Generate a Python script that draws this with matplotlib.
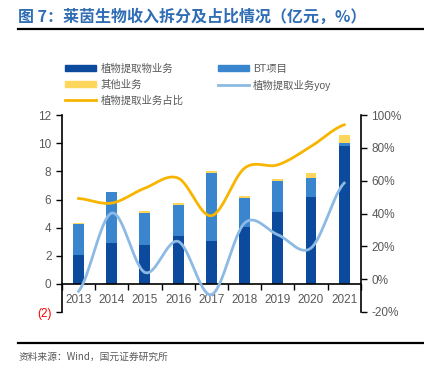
import matplotlib.pyplot as plt
import numpy as np
from matplotlib.patches import Patch
from matplotlib.lines import Line2D

plt.rcParams['font.family'] = ['Liberation Sans', 'Noto Sans CJK SC', 'DejaVu Sans']

# Datos
years = ['2013', '2014', '2015', '2016', '2017', '2018', '2019', '2020', '2021']
plant = [2.05, 2.89, 2.77, 3.43, 3.05, 4.07, 5.14, 6.18, 9.82]       # 植物提取物业务
bt = [2.19, 3.62, 2.27, 2.18, 4.83, 2.01, 2.15, 1.32, 0.21]          # BT项目
other = [0.07, -0.11, 0.13, 0.14, 0.14, 0.15, 0.16, 0.38, 0.55]      # 其他业务
yoy = [-7.4, 40.3, 4.1, 23.0, -9.4, 34.2, 27.1, 19.0, 58.6]          # 植物提取业务yoy (%)
share = [49.2, 46.4, 55.5, 61.6, 38.7, 67.7, 69.7, 80.9, 94.1]       # 植物提取业务占比 (%)

C_PLANT = '#0B4A9C'
C_BT = '#3A86CE'
C_OTHER = '#FFD65C'
C_YOY = '#8CBAE4'
C_SHARE = '#F7B500'
GRAY = '#595959'


def smooth(y, n=30):
    """Curva suavizada tipo Catmull-Rom (como las líneas suavizadas de Excel)."""
    pts = np.array(y, dtype=float)
    xs, ys = [], []
    for i in range(len(pts) - 1):
        p0 = pts[i - 1] if i > 0 else pts[i]
        p1, p2 = pts[i], pts[i + 1]
        p3 = pts[i + 2] if i + 2 < len(pts) else pts[i + 1]
        t = np.linspace(0, 1, n, endpoint=False)
        yy = 0.5 * ((2 * p1) + (-p0 + p2) * t + (2 * p0 - 5 * p1 + 4 * p2 - p3) * t ** 2
                    + (-p0 + 3 * p1 - 3 * p2 + p3) * t ** 3)
        xs.append(i + t)
        ys.append(yy)
    xs.append([len(pts) - 1])
    ys.append([pts[-1]])
    return np.concatenate(xs), np.concatenate(ys)


fig = plt.figure(figsize=(4.24, 3.75), dpi=100)
ax = fig.add_axes([0.146, 0.168, 0.705, 0.525])
x = np.arange(len(years))
w = 0.33

plant_a = np.array(plant)
bt_a = np.array(bt)
other_a = np.array(other)
ax.bar(x, plant_a, w, color=C_PLANT, zorder=2)
ax.bar(x, bt_a, w, bottom=plant_a, color=C_BT, zorder=2)
other_bottom = np.where(other_a >= 0, plant_a + bt_a, 0)
ax.bar(x, other_a, w, bottom=other_bottom, color=C_OTHER, zorder=2)

ax.set_ylim(-2, 12)
ax.set_xlim(-0.5, len(years) - 0.5)
ax.set_yticks([-2, 0, 2, 4, 6, 8, 10, 12])
ax.set_yticklabels(['(2)', '0', '2', '4', '6', '8', '10', '12'])
ax.set_xticks(x)
ax.set_xticklabels(years)
ax.set_xticks(np.arange(-0.5, len(years), 1), minor=True)
ax.tick_params(axis='x', which='major', length=0, pad=7, labelsize=8.5, labelcolor=GRAY)
ax.tick_params(axis='x', which='minor', length=4, direction='out', width=1)
ax.tick_params(axis='y', length=4, width=1, labelsize=8.5, labelcolor=GRAY)
ax.get_yticklabels()[0].set_color('#FF0000')
ax.spines['bottom'].set_position(('data', 0))
ax.spines['top'].set_visible(False)
ax.spines['right'].set_visible(False)
for s in ('left', 'bottom'):
    ax.spines[s].set_linewidth(1.2)

ax2 = ax.twinx()
ax2.set_ylim(-20, 100)
ax2.set_yticks([-20, 0, 20, 40, 60, 80, 100])
ax2.set_yticklabels([f'{v}%' for v in [-20, 0, 20, 40, 60, 80, 100]])
ax2.tick_params(axis='y', length=4, width=1, labelsize=8.5, labelcolor=GRAY)
for s in ('top', 'left', 'bottom'):
    ax2.spines[s].set_visible(False)
ax2.spines['right'].set_linewidth(1.2)

sx, sy = smooth(yoy)
ax2.plot(sx, sy, color=C_YOY, lw=2, zorder=3)
sx, sy = smooth(share)
ax2.plot(sx, sy, color=C_SHARE, lw=2, zorder=3)

# Leyenda
handles = [
    Patch(color=C_PLANT, label='植物提取物业务'),
    Patch(color=C_OTHER, label='其他业务'),
    Line2D([], [], color=C_SHARE, lw=2, label='植物提取业务占比'),
    Patch(color=C_BT, label='BT项目'),
    Line2D([], [], color=C_YOY, lw=2, label='植物提取业务yoy'),
]
fig.legend(handles=handles, ncol=2, loc='upper left', bbox_to_anchor=(0.153, 0.83),
           frameon=False, fontsize=7.5, labelcolor=GRAY, handlelength=3.0,
           handleheight=0.55, handletextpad=0.4, columnspacing=3.3, labelspacing=0.55,
           borderpad=0, borderaxespad=0)

# Título y fuente
fig.text(0.043, 0.955, '图 7：莱茵生物收入拆分及占比情况（亿元，%）', fontsize=11.5,
         fontweight='bold', color='#2F6DB5', va='center', ha='left',
         family=['Noto Sans CJK SC', 'DejaVu Sans'])
fig.add_artist(Line2D([0.043, 1.0], [0.922, 0.922], color='black', lw=1.6))
fig.add_artist(Line2D([0.043, 1.0], [0.085, 0.085], color='black', lw=1.6))
fig.text(0.043, 0.048, '资料来源：Wind，国元证券研究所', fontsize=7, color=GRAY,
         va='center', ha='left', family=['Noto Sans CJK SC', 'DejaVu Sans'])

fig.savefig('out.png', dpi=100)
plt.close(fig)
